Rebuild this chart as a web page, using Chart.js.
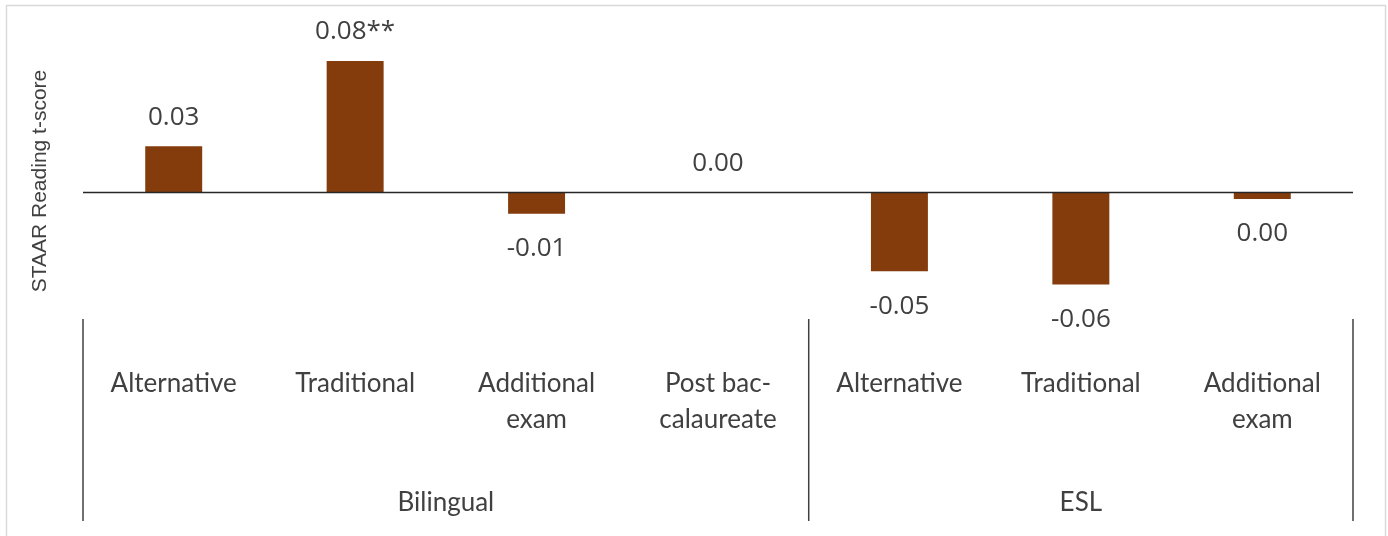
<!DOCTYPE html>
<html>
<head>
<meta charset="utf-8">
<script src="https://cdn.jsdelivr.net/npm/chart.js@4"></script>
<style>
  html, body { margin: 0; padding: 0; background: #fff; }
  #wrap { width: 1388px; height: 536px; }
</style>
</head>
<body>
<div id="wrap"><canvas id="chart"></canvas></div>
<script>
// data
const categories = [
  'Alternative', 'Traditional', ['Additional', 'exam'], ['Post bac-', 'calaureate'],
  'Alternative', 'Traditional', ['Additional', 'exam']
];
const values = [0.028, 0.08, -0.013, 0, -0.048, -0.056, -0.004];
const valueLabels = ['0.03', '0.08**', '-0.01', '0.00', '-0.05', '-0.06', '0.00'];
const groupNames = ['Bilingual', 'ESL'];
const groupSizes = [4, 3];

const textColor = '#404040';

// zero line, separators, group names, value labels, y title
const extras = {
  id: 'extras',
  beforeDraw(chart) {
    const ctx = chart.ctx;
    ctx.save();
    ctx.strokeStyle = '#d9d9d9';
    ctx.lineWidth = 1.5;
    ctx.strokeRect(6.5, 5.5, 1379, 560);
    ctx.restore();
  },
  afterDatasetsDraw(chart) {
    const ctx = chart.ctx;
    const x = chart.scales.x, y = chart.scales.y;
    const area = chart.chartArea;
    const zero = y.getPixelForValue(0);

    ctx.save();
    ctx.strokeStyle = '#262626';
    ctx.lineWidth = 1.5;
    ctx.beginPath();
    ctx.moveTo(area.left, zero);
    ctx.lineTo(area.right, zero);
    ctx.stroke();

    // value labels
    ctx.fillStyle = textColor;
    ctx.font = '26px "Open Sans"';
    ctx.textAlign = 'center';
    ctx.textBaseline = 'middle';
    const meta = chart.getDatasetMeta(0);
    meta.data.forEach((bar, i) => {
      const ty = values[i] >= 0 ? bar.y - 29 : bar.y + 35;
      ctx.fillText(valueLabels[i], bar.x, ty);
    });

    // group separators and names
    const step = x.getPixelForValue(1) - x.getPixelForValue(0);
    const top = area.bottom, bottom = 521;
    ctx.strokeStyle = '#404040';
    ctx.lineWidth = 1.5;
    let start = 0;
    const edges = [x.getPixelForValue(0) - step / 2];
    groupSizes.forEach(n => {
      edges.push(x.getPixelForValue(start + n - 1) + step / 2);
      start += n;
    });
    edges.forEach(ex => {
      ctx.beginPath();
      ctx.moveTo(ex, top);
      ctx.lineTo(ex, bottom);
      ctx.stroke();
    });
    ctx.font = '26px Lato';
    groupNames.forEach((g, i) => {
      ctx.fillText(g, (edges[i] + edges[i + 1]) / 2, 503);
    });

    // y axis title
    ctx.font = '21px "Liberation Sans"';
    ctx.translate(40, 181);
    ctx.rotate(-Math.PI / 2);
    ctx.fillText('STAAR Reading t-score', 0, 0);
    ctx.restore();
  }
};

new Chart(document.getElementById('chart'), {
  type: 'bar',
  data: {
    labels: categories,
    datasets: [{
      data: values,
      backgroundColor: '#843c0c',
      categoryPercentage: 1,
      barPercentage: 0.314
    }]
  },
  options: {
    responsive: true,
    maintainAspectRatio: false,
    animation: false,
    layout: { padding: { left: 83, right: 35, top: 28, bottom: 51 } },
    plugins: { legend: { display: false }, tooltip: { enabled: false } },
    scales: {
      x: {
        grid: { display: false, drawTicks: false },
        border: { display: false },
        ticks: {
          color: textColor,
          font: { family: 'Lato', size: 26, lineHeight: 36 / 26 },
          padding: 47,
          maxRotation: 0,
          autoSkip: false
        }
      },
      y: {
        display: false,
        min: -0.077,
        max: 0.1
      }
    }
  },
  plugins: [extras]
});
</script>
</body>
</html>
